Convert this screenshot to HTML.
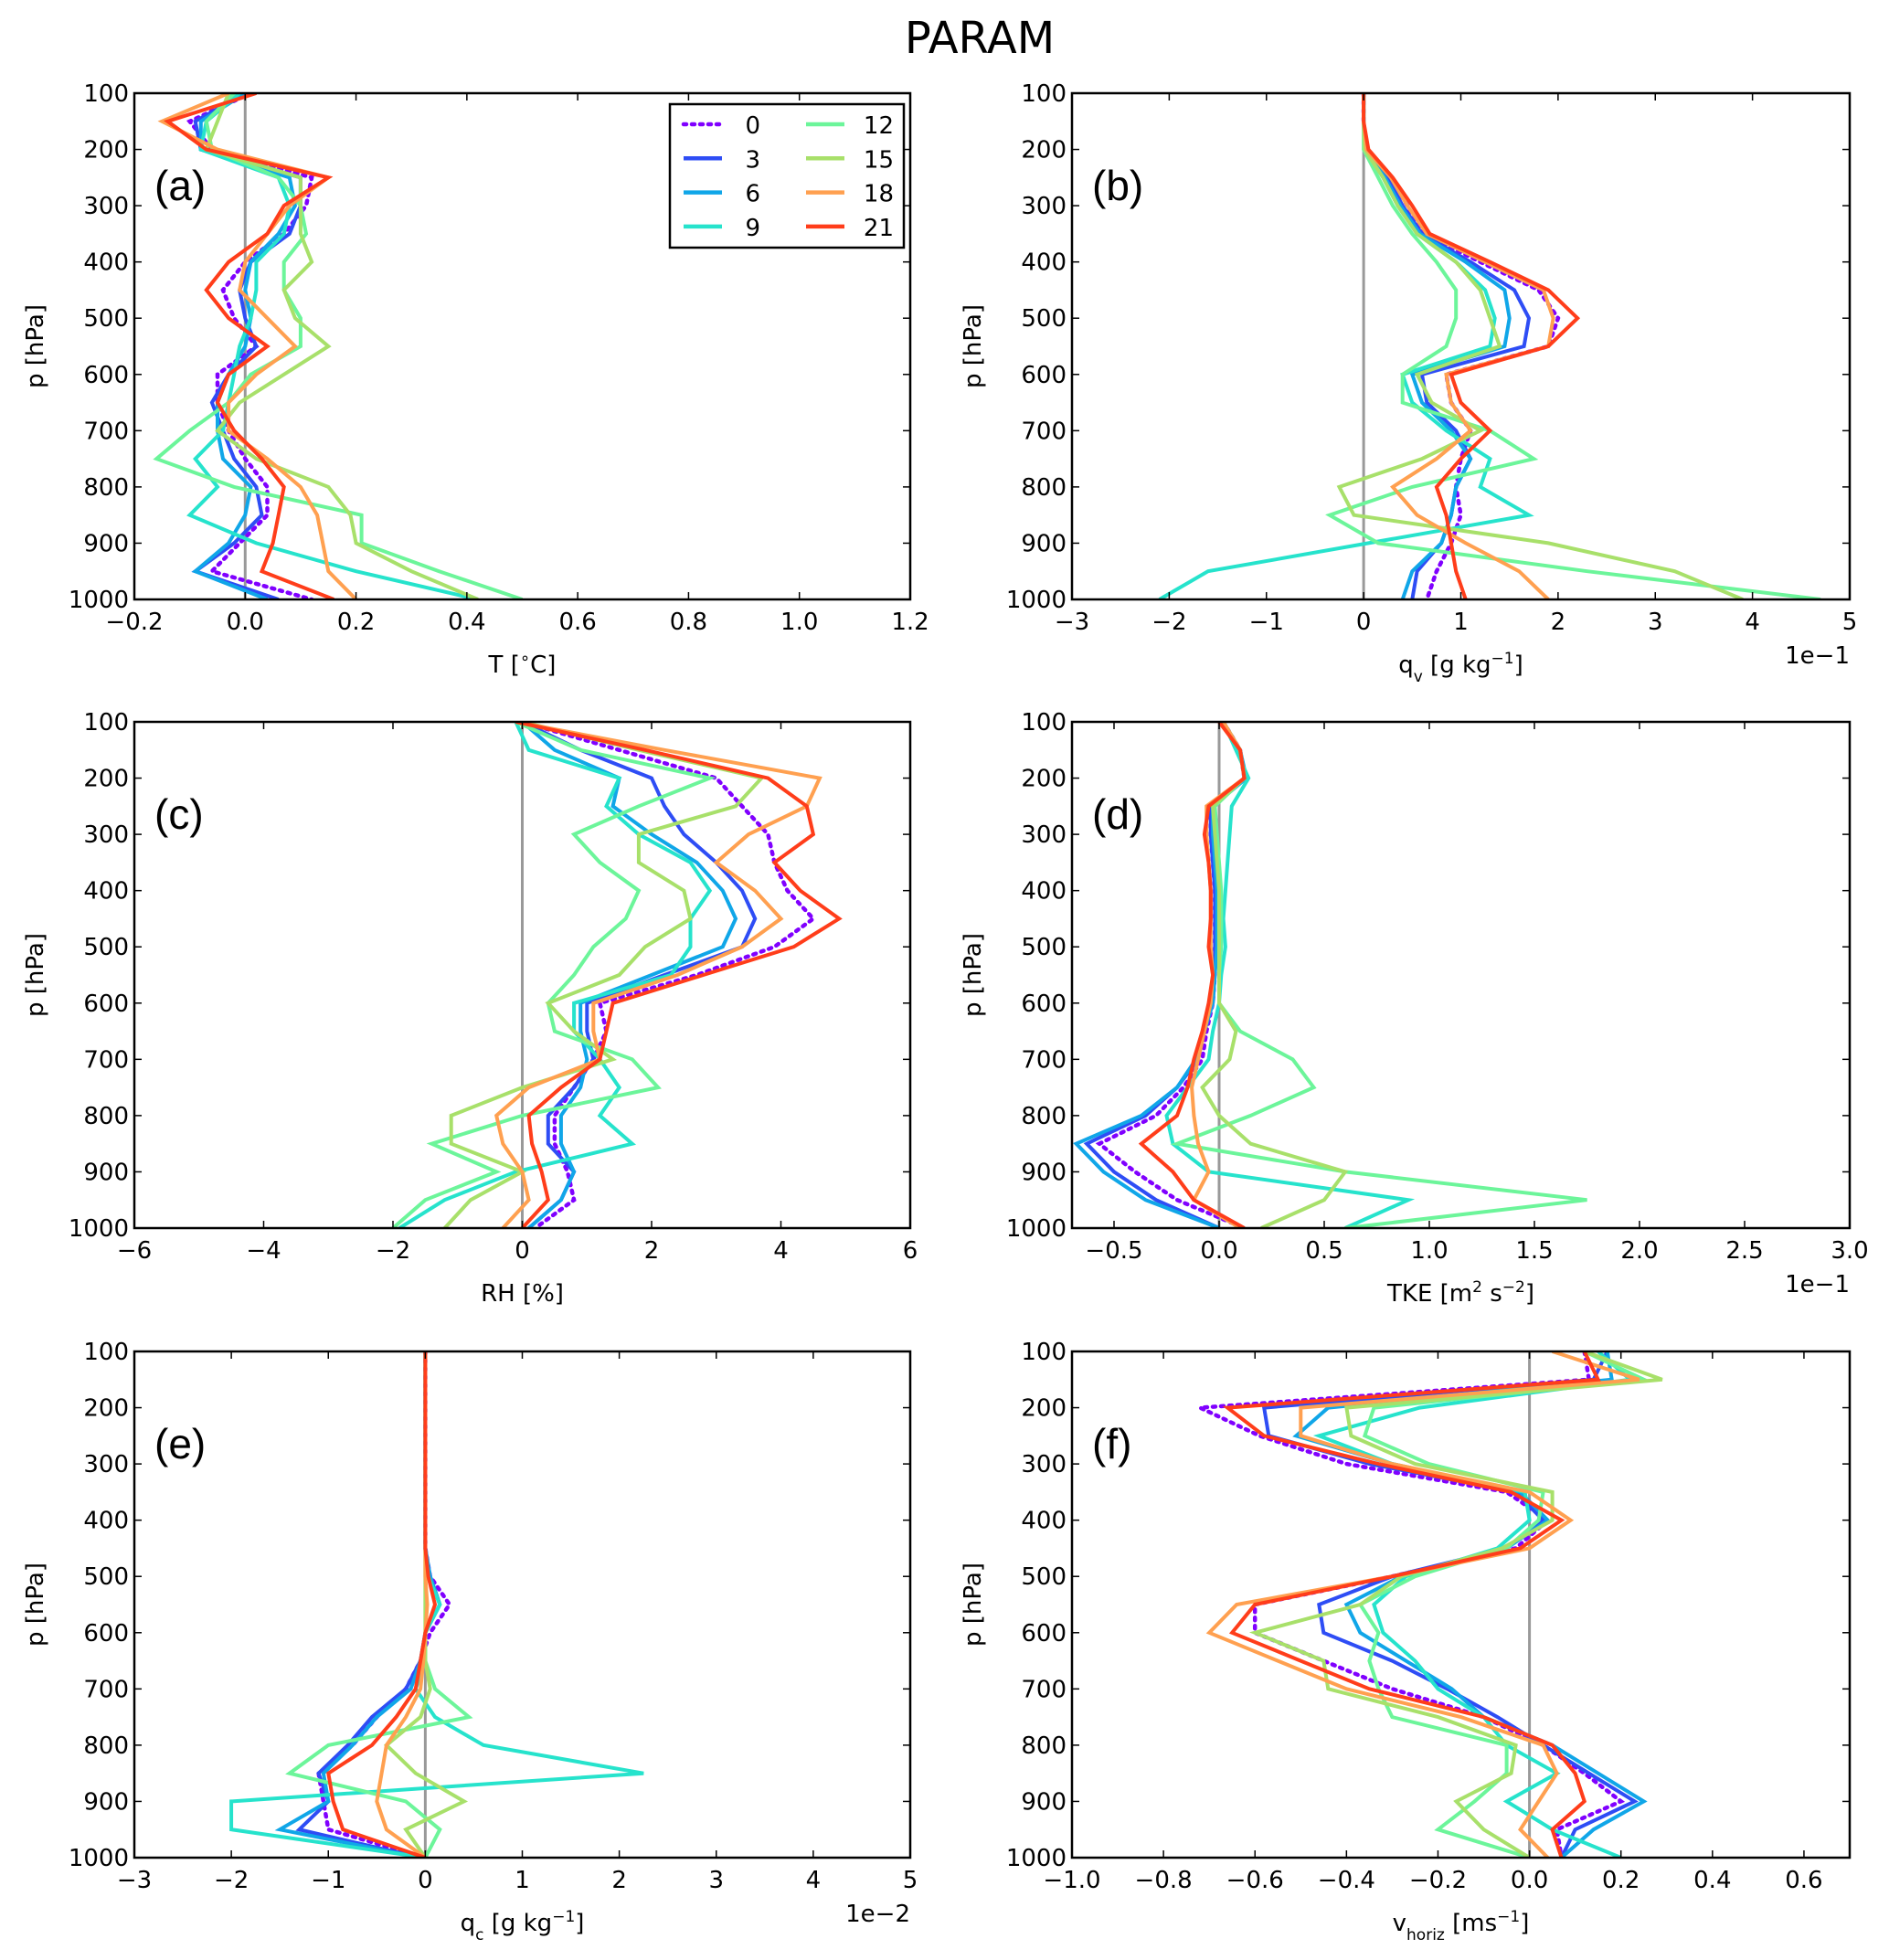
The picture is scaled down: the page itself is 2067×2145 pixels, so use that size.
<!DOCTYPE html>
<html><head><meta charset="utf-8"><style>
html,body{margin:0;padding:0;background:#fff;}
svg{display:block;font-family:"DejaVu Sans","Liberation Sans",sans-serif;}
</style></head><body>
<svg id="fig" width="2067" height="2145" viewBox="0 0 2067 2145" xmlns="http://www.w3.org/2000/svg">
<rect x="0" y="0" width="2067" height="2145" fill="#fff"/>
<text x="1072" y="58" font-size="48" text-anchor="middle">PARAM</text>
</svg>
<script>
const levels=[100,150,200,250,300,350,400,450,500,550,600,650,700,750,800,850,900,950,1000];
const seriesNames=["0","3","6","9","12","15","18","21"];
const seriesColors=["#8000ff","#2e4df5","#10a6e8","#26e3cc","#6cf59a","#a8e06a","#ffa050","#ff3d1a"];

// (a) T
const tA0=[0.01,-0.1,-0.06,0.12,0.11,0.07,0.0,-0.04,-0.02,0.02,-0.05,-0.05,-0.03,0.0,0.04,0.04,-0.01,-0.06,0.12];
const tA3=[0.0,-0.09,-0.08,0.1,0.1,0.08,0.01,-0.01,0.0,0.02,-0.03,-0.06,-0.04,-0.02,0.02,0.03,-0.02,-0.09,0.06];
const tA6=[0.0,-0.08,-0.08,0.08,0.09,0.06,0.01,0.0,0.01,0.0,-0.03,-0.05,-0.05,-0.04,0.01,0.0,-0.03,-0.09,0.04];
const tA9=[-0.01,-0.07,-0.08,0.06,0.08,0.07,0.02,0.02,0.01,-0.01,-0.02,-0.03,-0.04,-0.09,-0.05,-0.1,0.02,0.2,0.42];
const tA12=[-0.02,-0.07,-0.06,0.06,0.1,0.11,0.07,0.07,0.1,0.1,0.01,-0.03,-0.1,-0.16,-0.02,0.21,0.21,0.35,0.5];
const tA15=[-0.03,-0.05,-0.07,0.1,0.1,0.1,0.12,0.07,0.09,0.15,0.07,-0.01,-0.05,0.02,0.15,0.19,0.2,0.3,0.42];
const tA18=[-0.03,-0.15,-0.05,0.15,0.08,0.04,0.0,-0.01,0.04,0.09,0.02,-0.03,-0.03,0.04,0.1,0.13,0.14,0.15,0.2];
const tA21=[0.02,-0.14,-0.07,0.15,0.07,0.04,-0.03,-0.07,-0.03,0.04,-0.03,-0.05,-0.02,0.03,0.07,0.06,0.05,0.03,0.16];
// (b) qv (x1e-1)
const qvB0=[0,0,0.02,0.28,0.45,0.62,1.2,1.8,2.0,1.9,0.85,0.9,1.1,1.0,0.95,1.0,0.9,0.75,0.65];
const qvB3=[0,0,0.02,0.25,0.4,0.6,1.1,1.55,1.7,1.65,0.6,0.65,0.95,1.1,0.95,0.9,0.8,0.55,0.5];
const qvB6=[0,0,0.02,0.22,0.38,0.58,1.05,1.45,1.5,1.45,0.5,0.6,0.9,1.1,0.95,0.9,0.8,0.5,0.4];
const qvB9=[0,0,0.01,0.2,0.35,0.55,0.95,1.25,1.35,1.3,0.4,0.5,0.85,1.3,1.2,1.7,0.05,-1.6,-2.1];
const qvB12=[0,0,0.0,0.15,0.3,0.5,0.75,0.95,0.95,0.85,0.4,0.4,1.3,1.75,0.5,-0.35,0.15,2.3,4.7];
const qvB15=[0,0,0.01,0.2,0.35,0.55,0.95,1.2,1.3,1.4,0.55,0.7,1.2,0.6,-0.25,-0.1,1.9,3.2,3.9];
const qvB18=[0,0,0.03,0.28,0.45,0.65,1.25,1.85,1.95,1.9,0.85,0.9,1.1,0.75,0.3,0.55,1.05,1.6,1.9];
const qvB21=[0,0,0.05,0.3,0.5,0.68,1.3,1.9,2.2,1.9,0.9,1.0,1.3,1.0,0.75,0.85,0.9,0.95,1.05];
// (c) RH
const rhC0=[0.0,1.5,3.0,3.4,3.8,3.9,4.1,4.5,3.9,2.7,1.2,1.3,1.1,0.8,0.5,0.5,0.7,0.8,0.2];
const rhC3=[0.0,0.9,2.0,2.2,2.5,3.0,3.4,3.6,3.4,2.2,1.0,1.0,1.1,0.8,0.4,0.4,0.8,0.6,0.1];
const rhC6=[0.0,0.5,1.5,1.4,2.0,2.7,3.1,3.3,3.1,2.0,0.9,0.9,1.0,0.9,0.6,0.6,0.8,0.6,0.1];
const rhC9=[-0.1,0.1,1.5,1.3,1.8,2.6,2.9,2.6,2.6,2.3,0.8,0.8,1.2,1.5,1.2,1.7,-0.1,-1.2,-1.9];
const rhC12=[-0.1,0.9,2.9,1.8,0.8,1.2,1.8,1.6,1.1,0.8,0.4,0.5,1.7,2.1,0.0,-1.4,-0.4,-1.5,-2.0];
const rhC15=[0.0,1.8,3.7,3.3,1.8,1.8,2.5,2.6,1.9,1.5,0.4,0.8,1.4,0.0,-1.1,-1.1,0.0,-0.8,-1.2];
const rhC18=[-0.1,2.2,4.6,4.4,3.5,3.0,3.6,4.0,3.4,2.4,1.1,1.1,1.2,0.1,-0.4,-0.3,0.0,0.1,-0.3];
const rhC21=[-0.1,1.9,3.8,4.4,4.5,3.9,4.3,4.9,4.2,2.8,1.4,1.3,1.2,0.6,0.1,0.15,0.3,0.4,0.0];
// (d) TKE (x1e-1)
const tkeD0=[0.02,0.1,0.12,-0.04,-0.04,-0.03,-0.02,-0.02,-0.02,-0.02,-0.03,-0.06,-0.08,-0.17,-0.3,-0.57,-0.4,-0.2,0.12];
const tkeD3=[0.02,0.1,0.12,-0.04,-0.04,-0.03,-0.02,-0.02,-0.02,-0.02,-0.03,-0.07,-0.1,-0.2,-0.35,-0.63,-0.5,-0.3,0.0];
const tkeD6=[0.02,0.1,0.13,-0.03,-0.03,-0.02,-0.01,-0.01,-0.01,-0.02,-0.03,-0.07,-0.11,-0.2,-0.37,-0.68,-0.55,-0.35,0.0];
const tkeD9=[0.02,0.08,0.14,0.06,0.05,0.04,0.03,0.02,0.03,0.01,0.0,-0.03,-0.05,-0.15,-0.25,-0.22,-0.05,0.9,0.6];
const tkeD12=[0.02,0.1,0.12,-0.02,-0.01,0.0,0.01,0.01,0.01,0.0,0.0,0.1,0.35,0.45,0.15,-0.2,0.6,1.75,0.6];
const tkeD15=[0.02,0.1,0.12,-0.03,-0.02,-0.01,0.0,0.0,0.0,0.0,0.0,0.08,0.05,-0.08,0.0,0.15,0.6,0.5,0.2];
const tkeD18=[0.02,0.1,0.12,-0.06,-0.06,-0.05,-0.04,-0.04,-0.04,-0.03,-0.04,-0.07,-0.1,-0.13,-0.12,-0.1,-0.05,-0.12,0.1];
const tkeD21=[0.0,0.1,0.12,-0.05,-0.07,-0.05,-0.04,-0.04,-0.05,-0.03,-0.05,-0.08,-0.12,-0.15,-0.2,-0.37,-0.22,-0.12,0.12];
// (e) qc (x1e-2)
const qcE0=[0,0,0,0,0,0,0,0,0.05,0.25,0.05,-0.05,-0.2,-0.5,-0.75,-1.1,-1.05,-1.0,0.0];
const qcE3=[0,0,0,0,0,0,0,0,0.05,0.15,0.0,-0.05,-0.2,-0.55,-0.8,-1.1,-1.0,-1.3,-0.05];
const qcE6=[0,0,0,0,0,0,0,0,0.05,0.15,0.0,-0.05,-0.15,-0.5,-0.75,-1.05,-1.0,-1.5,-0.05];
const qcE9=[0,0,0,0,0,0,0,0,0.03,0.15,0.0,0.0,-0.1,0.1,0.6,2.25,-2.0,-2.0,0.0];
const qcE12=[0,0,0,0,0,0,0,0,0,0,0,0.0,0.1,0.45,-1.0,-1.4,-0.2,0.15,0.0];
const qcE15=[0,0,0,0,0,0,0,0,0,0,0,0.0,0.05,-0.05,-0.4,-0.1,0.4,-0.2,0.0];
const qcE18=[0,0,0,0,0,0,0,0,0,0.02,0,-0.02,-0.05,-0.2,-0.4,-0.45,-0.5,-0.4,0.0];
const qcE21=[0,0,0,0,0,0,0,0,0.03,0.1,0.0,-0.05,-0.1,-0.3,-0.55,-1.0,-0.95,-0.85,0.0];
// (f) v_horiz
const vF0=[0.12,0.13,-0.72,-0.59,-0.4,-0.05,0.04,-0.03,-0.3,-0.6,-0.6,-0.45,-0.3,-0.1,0.03,0.12,0.2,0.06,0.07];
const vF3=[0.17,0.14,-0.58,-0.57,-0.35,-0.03,0.03,-0.05,-0.3,-0.46,-0.45,-0.3,-0.18,-0.07,0.03,0.13,0.23,0.1,0.07];
const vF6=[0.17,0.18,-0.44,-0.51,-0.3,-0.02,0.04,-0.05,-0.28,-0.4,-0.37,-0.27,-0.17,-0.1,0.05,0.15,0.25,0.14,0.07];
const vF9=[0.15,0.22,-0.24,-0.46,-0.3,-0.01,0.0,-0.07,-0.27,-0.34,-0.32,-0.25,-0.2,-0.1,-0.05,0.06,-0.05,0.05,0.2];
const vF12=[0.12,0.25,-0.34,-0.36,-0.22,0.03,0.02,-0.05,-0.25,-0.37,-0.33,-0.35,-0.33,-0.3,-0.05,-0.05,-0.12,-0.2,0.0];
const vF15=[0.12,0.29,-0.4,-0.39,-0.25,0.05,0.05,-0.06,-0.28,-0.37,-0.6,-0.45,-0.44,-0.2,-0.03,-0.04,-0.16,-0.1,0.0];
const vF18=[0.05,0.24,-0.5,-0.5,-0.3,0.0,0.09,0.0,-0.3,-0.64,-0.7,-0.55,-0.4,-0.15,0.03,0.06,0.02,-0.02,0.04];
const vF21=[0.12,0.15,-0.66,-0.58,-0.33,-0.04,0.07,-0.02,-0.3,-0.6,-0.65,-0.5,-0.35,-0.1,0.05,0.1,0.12,0.05,0.07];

const yTicks=[100,200,300,400,500,600,700,800,900,1000];
const ticksA=[-0.2,0,0.2,0.4,0.6,0.8,1.0,1.2];
const ticksB=[-3,-2,-1,0,1,2,3,4,5];
const ticksC=[-6,-4,-2,0,2,4,6];
const ticksD=[-0.5,0,0.5,1.0,1.5,2.0,2.5,3.0];
const ticksE=[-3,-2,-1,0,1,2,3,4,5];
const ticksF=[-1.0,-0.8,-0.6,-0.4,-0.2,0,0.2,0.4,0.6];

const NS="http://www.w3.org/2000/svg";
const svg=document.getElementById('fig');
function mk(tag,attrs,parent){const e=document.createElementNS(NS,tag);for(const k in attrs)e.setAttribute(k,attrs[k]);(parent||svg).appendChild(e);return e;}
function fmt(v,dec){let s=Math.abs(v).toFixed(dec);return (v<0?'\u2212':'')+s;}

const panels=[
 {id:'a',x0:147,x1:996,y0:102,y1:656,xmin:-0.2,xmax:1.2,ticks:ticksA,dec:1,data:[tA0,tA3,tA6,tA9,tA12,tA15,tA18,tA21],label:'T [<tspan baseline-shift="super" font-size="18">\u2218</tspan>C]',off:null,legend:true},
 {id:'b',x0:1173,x1:2024,y0:102,y1:656,xmin:-3,xmax:5,ticks:ticksB,dec:0,data:[qvB0,qvB3,qvB6,qvB9,qvB12,qvB15,qvB18,qvB21],label:'q<tspan baseline-shift="sub" font-size="17">v</tspan> [g kg<tspan baseline-shift="super" font-size="17">\u22121</tspan>]',off:'1e\u22121'},
 {id:'c',x0:147,x1:996,y0:790,y1:1344,xmin:-6,xmax:6,ticks:ticksC,dec:0,data:[rhC0,rhC3,rhC6,rhC9,rhC12,rhC15,rhC18,rhC21],label:'RH [%]',off:null},
 {id:'d',x0:1173,x1:2024,y0:790,y1:1344,xmin:-0.7,xmax:3.0,ticks:ticksD,dec:1,data:[tkeD0,tkeD3,tkeD6,tkeD9,tkeD12,tkeD15,tkeD18,tkeD21],label:'TKE [m<tspan baseline-shift="super" font-size="17">2</tspan> s<tspan baseline-shift="super" font-size="17">\u22122</tspan>]',off:'1e\u22121'},
 {id:'e',x0:147,x1:996,y0:1479,y1:2033,xmin:-3,xmax:5,ticks:ticksE,dec:0,data:[qcE0,qcE3,qcE6,qcE9,qcE12,qcE15,qcE18,qcE21],label:'q<tspan baseline-shift="sub" font-size="17">c</tspan> [g kg<tspan baseline-shift="super" font-size="17">\u22121</tspan>]',off:'1e\u22122'},
 {id:'f',x0:1173,x1:2024,y0:1479,y1:2033,xmin:-1.0,xmax:0.7,ticks:ticksF,dec:1,data:[vF0,vF3,vF6,vF9,vF12,vF15,vF18,vF21],label:'v<tspan baseline-shift="sub" font-size="17">horiz</tspan> [ms<tspan baseline-shift="super" font-size="17">\u22121</tspan>]',off:null}
];

panels.forEach(P=>{
  const g=mk('g',{});
  
  
  const X=v=>P.x0+(v-P.xmin)/(P.xmax-P.xmin)*(P.x1-P.x0);
  const Y=p=>P.y0+(p-100)/900*(P.y1-P.y0);
  const cid='clip'+P.id;
  const cp=mk('clipPath',{id:cid},g);
  mk('rect',{x:P.x0,y:P.y0,width:P.x1-P.x0,height:P.y1-P.y0},cp);
  // zero line
  const z=mk('line',{x1:X(0),x2:X(0),y1:P.y0,y2:P.y1,stroke:'#999',"stroke-width":3},g);
  
  
  // series
  const sg=mk('g',{"clip-path":'url(#'+cid+')'},g);
  P.data.forEach((arr,i)=>{
    const pts=arr.map((v,k)=>X(v).toFixed(1)+','+Y(levels[k]).toFixed(1)).join(' ');
    const pl=mk('polyline',{points:pts,fill:'none',stroke:seriesColors[i],"stroke-width":i===0?4.5:4,"stroke-linejoin":'miter',"stroke-dasharray":i===0?'3 6':'none',"stroke-linecap":i===0?'round':'butt'},sg);
    
    
  });
  // frame
  const fr=mk('rect',{x:P.x0,y:P.y0,width:P.x1-P.x0,height:P.y1-P.y0,fill:'none',stroke:'#000',"stroke-width":2.5},g);
  
  
  // y ticks
  yTicks.forEach(p=>{
    const y=Y(p);
    mk('line',{x1:P.x0,x2:P.x0+8,y1:y,y2:y,stroke:'#000',"stroke-width":1.5},g);
    mk('line',{x1:P.x1-8,x2:P.x1,y1:y,y2:y,stroke:'#000',"stroke-width":1.5},g);
    const t=mk('text',{x:P.x0-6,y:y+9,"font-size":26,"text-anchor":'end'},g);
    t.textContent=p;
    
    
  });
  // x ticks
  P.ticks.forEach(v=>{
    const x=X(v);
    mk('line',{x1:x,x2:x,y1:P.y1,y2:P.y1-8,stroke:'#000',"stroke-width":1.5},g);
    mk('line',{x1:x,x2:x,y1:P.y0,y2:P.y0+8,stroke:'#000',"stroke-width":1.5},g);
    const t=mk('text',{x:x,y:P.y1+33,"font-size":26,"text-anchor":'middle'},g);
    t.textContent=fmt(v,P.dec);
    
    
  });
  // x label
  const xl=mk('text',{x:(P.x0+P.x1)/2,y:P.y1+80,"font-size":26,"text-anchor":'middle'},g);
  xl.innerHTML=P.label;
  
  
  if(P.off){
    const o=mk('text',{x:P.x1,y:P.y1+70,"font-size":26,"text-anchor":'end'},g);
    o.textContent=P.off;
    
    
  }
  // y label
  const cy=(P.y0+P.y1)/2, cx=P.x0-100;
  const yl=mk('text',{x:cx,y:cy,"font-size":26,"text-anchor":'middle',transform:'rotate(-90 '+cx+' '+cy+')'},g);
  yl.textContent='p [hPa]';
  
  
  // panel letter
  const pl=mk('text',{x:P.x0+22,y:P.y0+117,"font-size":46,"font-family":'"Liberation Sans Narrow","Liberation Sans",sans-serif'},g);
  pl.textContent='('+P.id+')';
  
  
  if(P.legend){
    const lg=mk('g',{},g);
    
    
    mk('rect',{x:733,y:114,width:256,height:157,fill:'#fff',stroke:'#000',"stroke-width":2.5},lg);
    seriesNames.forEach((n,i)=>{
      const col=Math.floor(i/4), row=i%4;
      const ly=136+row*37.3;
      const lx=col?882:748;
      const e=mk('g',{},lg);
      
      
      mk('line',{x1:lx,x2:lx+42,y1:ly,y2:ly,stroke:seriesColors[i],"stroke-width":4.5,"stroke-dasharray":i===0?'3 6':'none',"stroke-linecap":i===0?'round':'butt'},e);
      const t=mk('text',{x:col?978:832,y:ly+10,"font-size":26,"text-anchor":'end'},e);
      t.textContent=n;
    });
  }
});
</script>
</body></html>
